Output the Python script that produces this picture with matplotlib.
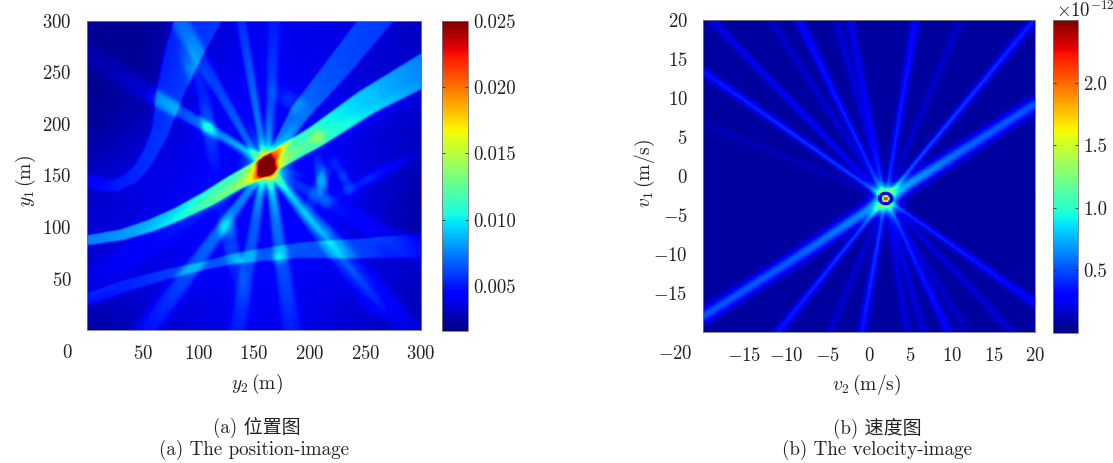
import numpy as np
import matplotlib
matplotlib.use("Agg")
import matplotlib.pyplot as plt

plt.rcParams['mathtext.fontset'] = 'cm'
plt.rcParams['font.family'] = ['cmr10', 'Noto Sans CJK SC', 'DejaVu Sans']
plt.rcParams['axes.formatter.use_mathtext'] = True

# position image, values
pos_ticks = [50, 100, 150, 200, 250, 300]
pos_cbar_ticks = [0.005, 0.010, 0.015, 0.020, 0.025]
pos_cbar_labels = ["0.005", "0.010", "0.015", "0.020", "0.025"]
pos_clim = (0.0016, 0.025)

# coarse background, bottom row first
pos_background = [
    [.0024, .0030, .0035, .0039, .0036, .0032, .0024],
    [.0032, .0035, .0040, .0042, .0040, .0036, .0030],
    [.0033, .0037, .0042, .0044, .0044, .0034, .0023],
    [.0030, .0036, .0041, .0045, .0043, .0036, .0026],
    [.0021, .0029, .0038, .0043, .0041, .0036, .0031],
    [.0019, .0022, .0036, .0041, .0039, .0034, .0031],
    [.0021, .0021, .0031, .0038, .0038, .0034, .0029],
]

# wide bands: y2, y1, width, added value
main_y2 = [-5, 30, 56, 80, 107, 130, 158, 205, 250, 305]
main_y1 = [85, 91, 100, 111, 126, 141, 157, 187, 220, 253]
main_w = [10, 11, 12, 13, 15, 16, 17, 21, 25, 31]
main_v = [.0042, .0045, .0050, .0056, .0068, .0075, .0085, .0068, .0056, .0044]

curve_y2 = [-5, 14, 26, 38, 47, 55, 64, 74, 85, 100]
curve_y1 = [145, 139, 139, 146, 156, 170, 190, 232, 268, 305]
curve_w = [12, 12, 12, 13, 13, 14, 16, 26, 34, 42]
curve_v = [.0015, .0015, .0018, .0018, .0020, .0022, .0024, .0026, .0026, .0024]

low_y2 = [-5, 35, 71, 100, 131, 190, 250, 292]
low_y1 = [27, 42, 53, 60, 68, 76, 78, 80]
low_w = [12, 12, 10, 8, 10, 15, 20, 24]
low_v = [.0018, .0020, .0022, .0024, .0024, .0022, .0024, .0016]

right_y2 = [160, 190, 225, 262]
right_y1 = [157, 210, 255, 305]
right_w = [8, 18, 24, 28]
right_v = [.0036, .0028, .0026, .0026]

# streaks: y2 start, y1 start, y2 end, y1 end, width start, width end, value start, value end
pos_streaks = [
    (158, 165, 136, 305, 5, 11, .0034, .0018),
    (162, 165, 167, 305, 5, 15, .0026, .0012),
    (152, 165, 78, 305, 5, 18, .0028, .0016),
    (150, 165, -5, 268, 6, 26, .0016, .0005),
    (152, 168, 60, 224, 5, 15, .0028, .0014),
    (155, 150, 50, -5, 6, 22, .0034, .0018),
    (157, 150, 133, -5, 6, 18, .0028, .0014),
    (162, 150, 183, -5, 6, 20, .0034, .0014),
    (165, 150, 259, 19, 6, 18, .0034, .0008),
    (165, 152, 292, -5, 6, 24, .0022, .0010),
    (150, 150, -5, 40, 7, 32, .0014, .0005),
    (170, 150, 305, 68, 7, 26, .0014, .0005),
    (170, 165, 305, 232, 7, 22, .0007, .0003),
]

# isolated patches that fade out at both ends
pos_patches = [
    (98, 262, 116, 139, 13, .0026),
    (116, 139, 140, 20, 15, .0018),
    (200, 115, 305, 176, 10, .0018),
    (204, 178, 214, 112, 10, .0028),
    (218, 172, 240, 122, 10, .0020),
    (192, 105, 224, 175, 11, .0018),
    (160, 240, 200, 205, 18, .0014),
    (128, 110, 122, 85, 16, .0016),
    (190, 120, 240, 70, 14, .0014),
    (85, 280, 100, 225, 14, .0016),
]

# short bright rays around the centre: end y2, end y1, value
pos_star = [
    (160, 222, .0030), (190, 205, .0030), (140, 210, .0026), (148, 105, .0026),
    (172, 100, .0030), (195, 120, .0026), (125, 130, .0024), (120, 185, .0022),
    (205, 145, .0020),
]

# bright patches: y2, y1, radius, added value
pos_blobs = [
    (160, 157, 20, .0035),
    (160, 156, 8.5, .0135),
    (158, 161, 5, .0030),
    (162, 152, 5, .0030),
    (157, 170, 4, .0030),
    (205, 186, 7, .0024),
    (107, 195, 6, .0012),
    (135, 66, 5, .0012),
    (170, 68, 6, .0014),
]

# velocity image
vel_ticks = [-15, -10, -5, 0, 5, 10, 15, 20]
vel_cbar_ticks = [0.5, 1.0, 1.5, 2.0]
vel_cbar_labels = ["0.5", "1.0", "1.5", "2.0"]
vel_clim = (0.0, 2.5)
vel_base = 0.07
vel_center = (2.0, -2.9)

# rays from the centre: end v2, end v1, value at end
vel_rays = [
    (5.6, 20, .26), (11, 20, .09), (19.9, 20, .32), (-2.3, 20, .17),
    (-3.9, 20, .12), (-8.5, 20, .26), (-11.9, 20, .10), (-19, 20, .17),
    (-20, 13.4, .30), (-20, 6.8, .05), (-11, -20, .30), (-4.7, -20, .10),
    (-0.85, -20, .30), (4.6, -20, .13), (6.6, -20, .13), (9.6, -20, .26),
    (11.8, -20, .09), (17.3, -20, .12), (20, -16.3, .26),
]
vel_main_v2 = [-20, -10, 0, 4, 12, 20]
vel_main_v1 = [-18, -11.3, -4.3, -1.6, 3.8, 9.2]
vel_main_v = [.46, .48, .60, .66, .50, .46]
# discs at the centre: radius, value
vel_discs = [(0.9, 0.0), (0.66, 0.25), (0.42, 1.95), (0.2, 2.2)]


def paint(grid, xx, yy, xs, ys, ws, vs, soft=False, power=2):
    """Add one band given by a polyline with width and value at each vertex"""
    best = np.zeros_like(grid)
    for i in range(len(xs) - 1):
        dx, dy = xs[i + 1] - xs[i], ys[i + 1] - ys[i]
        t = np.clip(((xx - xs[i]) * dx + (yy - ys[i]) * dy) / (dx * dx + dy * dy), 0, 1)
        d = np.hypot(xx - xs[i] - t * dx, yy - ys[i] - t * dy)
        w = ws[i] + t * (ws[i + 1] - ws[i])
        v = vs[i] + t * (vs[i + 1] - vs[i])
        if soft:
            val = v * np.exp(-(d / (w / 2)) ** power)
        else:
            val = v * np.clip((w / 2 - d) / 1.2 + 0.5, 0, 1)
        best = np.maximum(best, val)
    return grid + best


def blur(grid, n):
    """Box blur, run twice"""
    kernel = np.ones(n) / n
    for _ in range(2):
        grid = np.apply_along_axis(lambda r: np.convolve(r, kernel, mode="same"), 0, np.pad(grid, n, mode="edge"))[n:-n, n:-n]
        grid = np.apply_along_axis(lambda r: np.convolve(r, kernel, mode="same"), 1, np.pad(grid, n, mode="edge"))[n:-n, n:-n]
    return grid


def position_grid():
    xs = np.linspace(0, 300, 300)
    xx, yy = np.meshgrid(xs, xs)
    back = np.array(pos_background)
    nodes = np.linspace(0, 300, back.shape[0])
    rows = np.array([np.interp(xs, nodes, r) for r in back])
    grid = np.array([np.interp(xs, nodes, rows[:, j]) for j in range(300)]).T

    # streaks pile up at the centre, so their sum gets a ceiling
    rays = np.zeros_like(grid)
    for x0, y0, x1, y1, w0, w1, v0, v1 in pos_streaks:
        rays = paint(rays, xx, yy, [x0, x1], [y0, y1], [w0, w1], [v0, v1], soft=True, power=4)
    for x1, y1, v in pos_star:
        rays = paint(rays, xx, yy, [160, x1], [157, y1], [8, 6], [v, 0], soft=True)
    grid = grid + np.minimum(rays, .0060)

    for x0, y0, x1, y1, w, v in pos_patches:
        xm, ym = (x0 + x1) / 2, (y0 + y1) / 2
        grid = paint(grid, xx, yy, [x0, xm, x1], [y0, ym, y1], [w, w, w], [0, v, 0], soft=True, power=4)
    for band in [(main_y2, main_y1, main_w, main_v),
                 (curve_y2, curve_y1, curve_w, curve_v),
                 (low_y2, low_y1, low_w, low_v),
                 (right_y2, right_y1, right_w, right_v)]:
        grid = paint(grid, xx, yy, *band)
    for x0, y0, r, v in pos_blobs:
        grid = grid + v * np.exp(-(np.hypot(xx - x0, yy - y0) / r) ** 3)
    return blur(grid, 2)


def velocity_grid():
    xs = np.linspace(-20, 20, 500)
    ys = np.linspace(-20, 20, 500)
    xx, yy = np.meshgrid(xs, ys)
    cx, cy = vel_center
    grid = np.full(xx.shape, vel_base)
    for x1, y1, v in vel_rays:
        grid = paint(grid, xx, yy, [cx, x1], [cy, y1], [0.6, 1.05], [v * 1.5, v], soft=True)
    grid = paint(grid, xx, yy, vel_main_v2, vel_main_v1, [1.7] * 6, vel_main_v, soft=True)
    r = np.hypot(xx - cx, yy - cy)
    grid = grid + 0.45 * np.exp(-(r / 1.6) ** 2)
    for radius, v in vel_discs:
        grid[r < radius] = v
    return blur(grid, 3)


W, H = 1113.0, 463.0


def box(x0, y0, x1, y1):
    """Pixel box of the reference to figure fractions"""
    return [x0 / W, 1 - y1 / H, (x1 - x0) / W, (y1 - y0) / H]


def ftext(x, y, s, **kw):
    fig.text(x / W, 1 - y / H, s, ha="center", va="center", color="#222222", **kw)


def style_cbar(cax, ticks, labels):
    cax.yaxis.set_ticks_position("both")
    cax.set_yticks(ticks)
    cax.set_yticklabels(labels)
    cax.tick_params(axis="y", which="both", direction="in", length=2.5, width=0.6, left=True, right=True,
                    labelleft=False, labelright=True, labelsize=13.5, pad=4, colors="#222222")
    cax.minorticks_off()
    for s in cax.spines.values():
        s.set_edgecolor("#777777")
        s.set_linewidth(0.6)


def style_image(ax):
    ax.tick_params(axis="both", length=0, labelsize=13.5, pad=11, colors="#222222")
    for s in ax.spines.values():
        s.set_edgecolor("#777777")
        s.set_linewidth(0.6)


fig = plt.figure(figsize=(W / 100, H / 100), dpi=100, facecolor="white")

ax1 = fig.add_axes(box(87, 21, 421, 330))
im1 = ax1.imshow(position_grid(), origin="lower", extent=[0, 300, 0, 300], aspect="auto",
                 cmap="jet", vmin=pos_clim[0], vmax=pos_clim[1], interpolation="bilinear")
ax1.set_xticks(pos_ticks)
ax1.set_yticks(pos_ticks)
ax1.set_xticklabels(["$%d$" % t for t in pos_ticks])
ax1.set_yticklabels(["$%d$" % t for t in pos_ticks])
style_image(ax1)
cax1 = fig.add_axes(box(442, 21, 468, 331))
fig.colorbar(im1, cax=cax1)
style_cbar(cax1, pos_cbar_ticks, pos_cbar_labels)

ax2 = fig.add_axes(box(703, 20, 1035, 332))
im2 = ax2.imshow(velocity_grid(), origin="lower", extent=[-20, 20, -20, 20], aspect="auto",
                 cmap="jet", vmin=vel_clim[0], vmax=vel_clim[1], interpolation="nearest")
ax2.set_xticks(vel_ticks)
ax2.set_yticks(vel_ticks)
ax2.set_xticklabels(["$%d$" % t for t in vel_ticks])
ax2.set_yticklabels(["$%d$" % t for t in vel_ticks])
style_image(ax2)
cax2 = fig.add_axes(box(1053, 20, 1078, 333))
fig.colorbar(im2, cax=cax2)
style_cbar(cax2, vel_cbar_ticks, vel_cbar_labels)

# the corner labels sit apart from the axes in the original
ftext(67, 353, "$0$", fontsize=13.5)
ftext(675, 354, "$-20$", fontsize=13.5)
ftext(1085, 11, r"$\times 10^{-12}$", fontsize=13.5)

ftext(257, 384, r"$y_2\,(\mathrm{m})$", fontsize=14)
ftext(26, 181, r"$y_1\,(\mathrm{m})$", fontsize=14, rotation=90)
ftext(867, 385, r"$v_2\,(\mathrm{m/s})$", fontsize=14)
ftext(645, 173, r"$v_1\,(\mathrm{m/s})$", fontsize=14, rotation=90)

ftext(257, 428, "(a) 位置图", fontsize=13.7)
ftext(254, 450, "(a) The position-image", fontsize=13.7)
ftext(877, 428, "(b) 速度图", fontsize=13.7)
ftext(877, 450, "(b) The velocity-image", fontsize=13.7)

fig.savefig("out.png", dpi=100)
